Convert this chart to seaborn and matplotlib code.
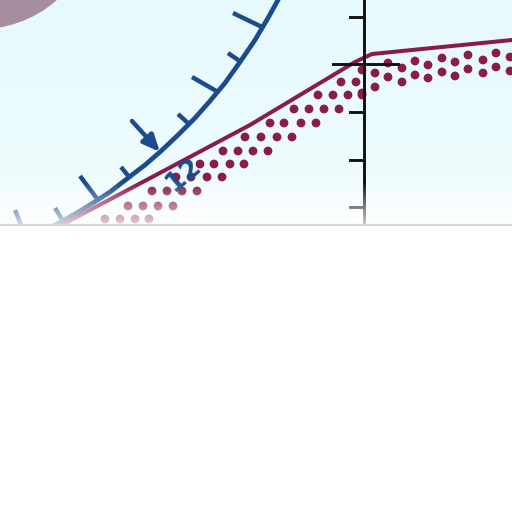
import numpy as np
import seaborn as sns
import matplotlib.pyplot as plt
from matplotlib.patches import Ellipse
from matplotlib.colors import LinearSegmentedColormap

# pixel coordinates of the diagram (y grows downwards)
arc_x = [55, 75, 93, 110, 128, 145, 160, 178, 195, 210, 225, 240, 255, 268, 278]
arc_y = [225, 214, 203, 192, 178, 165, 152, 135, 118, 101, 83, 62, 40, 18, 0]

# arc ticks: base on the arc -> tip
tick_base_x = [21, 63, 98, 130, 189, 218, 241, 262]
tick_base_y = [225, 221, 200, 178, 124, 92, 62, 27]
tick_tip_x = [15, 55, 80, 121, 178, 192, 228, 233]
tick_tip_y = [210, 208, 176, 167, 114, 77, 53, 13]

curve_x = [60, 250, 355, 372, 512]
curve_y = [226, 125, 62, 54, 40]

dot_rows = {
    219: [105, 120, 135, 149],
    206: [128, 143, 158, 173],
    191: [152, 167, 182, 197],
    177: [176, 191, 207, 222],
    164: [200, 214, 230, 244],
    151: [223, 238, 253, 268],
    137: [245, 261, 277, 292],
    123: [270, 284, 301, 316],
    109: [294, 309, 324, 339],
    95: [318, 333, 348, 362],
    82: [341, 356],
}
col_x = [362, 375, 388, 402, 415, 428, 442, 455, 468, 483, 496, 510]
col_top = [70, 73, 63, 68, 61, 65, 58, 62, 55, 60, 53, 57]
col_bot = [93, 87, 77, 82, 75, 78, 72, 76, 69, 73, 67, 71]

axis_ticks = [17, 112, 160, 207]

blue = "#1b4b8c"
crimson = "#8a1c4c"

dot_x, dot_y = [], []
for yy, xs in dot_rows.items():
    dot_x += xs
    dot_y += [yy] * len(xs)
dot_x += col_x + col_x
dot_y += col_top + col_bot

fig = plt.figure(figsize=(5.12, 5.12), dpi=100)
ax = fig.add_axes([0, 1 - 226 / 512, 1, 226 / 512])
ax.set_xlim(0, 512)
ax.set_ylim(226, 0)
ax.axis("off")

# background gradient
bg = LinearSegmentedColormap.from_list(
    "bg", [(0, "#e6f9fd"), (0.75, "#eefcfe"), (1, "#fbfeff")])
ax.imshow(np.linspace(0, 1, 256)[:, None], cmap=bg, aspect="auto",
          extent=(0, 512, 226, 0), zorder=0)

# purple blob
ax.add_patch(Ellipse((-24, -66), 222, 190, color="#a88d9e", zorder=1))

# blue arc with ticks
sns.lineplot(x=arc_x, y=arc_y, sort=False, estimator=None, color=blue, lw=3.4, ax=ax, zorder=3)
for bx, by, tx, ty in zip(tick_base_x, tick_base_y, tick_tip_x, tick_tip_y):
    ax.plot([bx, tx], [by, ty], color=blue, lw=3.2, solid_capstyle="butt", zorder=3)
ax.annotate("", xy=(160, 152), xytext=(132, 121),
            arrowprops=dict(arrowstyle="-|>,head_length=0.5,head_width=0.22",
                            color=blue, lw=3.2, mutation_scale=20,
                            shrinkA=0, shrinkB=0), zorder=3)

# crimson curve and dotted band
sns.lineplot(x=curve_x, y=curve_y, sort=False, estimator=None, color=crimson, lw=2.9, ax=ax, zorder=4)
sns.scatterplot(x=dot_x, y=dot_y, color=crimson, s=40, edgecolor="none", ax=ax, zorder=4)

ax.text(184, 175, "12", rotation=40, ha="center", va="center", fontsize=19,
        fontweight="bold", color=blue, zorder=6)

# black vertical axis
ax.plot([364, 364], [0, 222], color="#111111", lw=2.1, zorder=5)
for yy in axis_ticks:
    ax.plot([350, 364], [yy, yy], color="#111111", lw=2.1, zorder=5)
ax.plot([333, 398], [64, 64], color="#111111", lw=2.1, zorder=5)

# fade to white near the bottom
fade = np.ones((64, 1, 4))
fade[:, 0, 3] = np.linspace(0, 0.8, 64)
ax.imshow(fade, aspect="auto", extent=(0, 512, 226, 182), zorder=10)
ax.set_xlim(0, 512)
ax.set_ylim(226, 0)

ax.axhline(225, color="#d6d6d6", lw=1.6, zorder=11)

fig.savefig("out.png", dpi=100, facecolor="white")
